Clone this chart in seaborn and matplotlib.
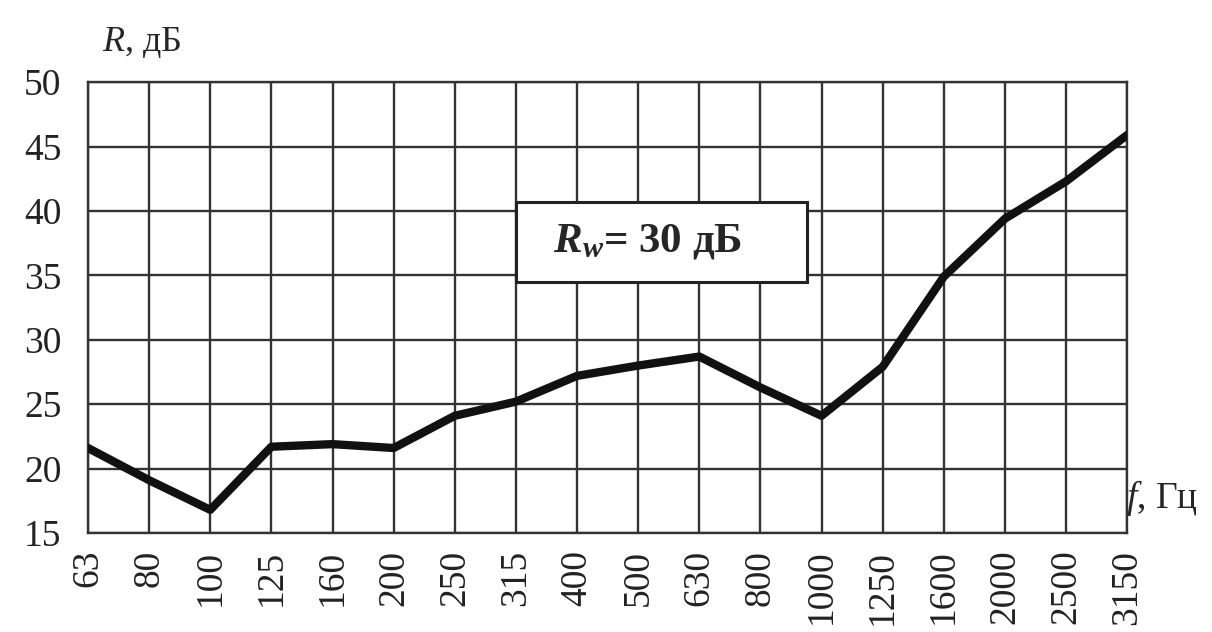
import pandas as pd
import seaborn as sns
import matplotlib.pyplot as plt
from matplotlib.patches import Rectangle

# частоты (третьоктавные полосы), Гц
freqs = ["63", "80", "100", "125", "160", "200", "250", "315", "400", "500",
         "630", "800", "1000", "1250", "1600", "2000", "2500", "3150"]
# звукоизоляция R, дБ
r_values = [21.6, 19.1, 16.8, 21.7, 21.9, 21.6, 24.1, 25.2, 27.2, 28.0,
            28.7, 26.3, 24.1, 27.9, 34.9, 39.4, 42.3, 45.9]
y_ticks = [15, 20, 25, 30, 35, 40, 45, 50]

df = pd.DataFrame({"f": freqs, "R": r_values})

sns.set_style("white")
plt.rcParams["font.family"] = ["Liberation Serif", "DejaVu Serif"]
plt.rcParams["mathtext.fontset"] = "custom"
plt.rcParams["mathtext.it"] = "Liberation Serif:italic"
plt.rcParams["mathtext.bfit"] = "Liberation Serif:italic:bold"
plt.rcParams["mathtext.rm"] = "Liberation Serif"
plt.rcParams["mathtext.bf"] = "Liberation Serif:bold"

fig = plt.figure(figsize=(12.12, 6.32), dpi=100)
ax = fig.add_axes([0.0726, 0.1566, 0.8574, 0.7134])

grid_c = "#333333"
sns.lineplot(data=df, x="f", y="R", ax=ax, color="#111111", linewidth=6,
             sort=False, zorder=5)

ax.set_xlim(0, len(freqs) - 1)
ax.set_ylim(15, 50)
ax.set_yticks(y_ticks)
ax.set_xticks(range(len(freqs)))
ax.set_xticklabels(freqs, rotation=90)
ax.grid(True, color=grid_c, linewidth=1.7)
for s in ax.spines.values():
    s.set_color(grid_c)
    s.set_linewidth(1.7)
ax.tick_params(axis="both", which="major", labelsize=27, colors="#222222",
               length=9, width=1.7, direction="out")
ax.tick_params(axis="y", pad=10)
ax.tick_params(axis="x", pad=3)
ax.tick_params(axis="both", color=grid_c)
ax.set_xlabel("")
ax.set_ylabel("")

fig.text(0.084, 0.933, r"$\mathit{R}$, дБ", fontsize=26, ha="left", va="center")
fig.text(0.929, 0.212, r"$\mathit{f}$, Гц", fontsize=27, ha="left", va="center")

# рамка с индексом
ax.add_patch(Rectangle((7.0, 34.45), 4.77, 6.25, facecolor="white",
                       edgecolor="#222222", linewidth=2.2, zorder=6))
ax.text(9.15, 37.6, r"$\mathbfit{R}_{\mathbfit{w}}$= 30 дБ", fontsize=31,
        fontweight="bold", ha="center", va="center", zorder=7)

plt.savefig("out.png", dpi=100)
plt.close()
